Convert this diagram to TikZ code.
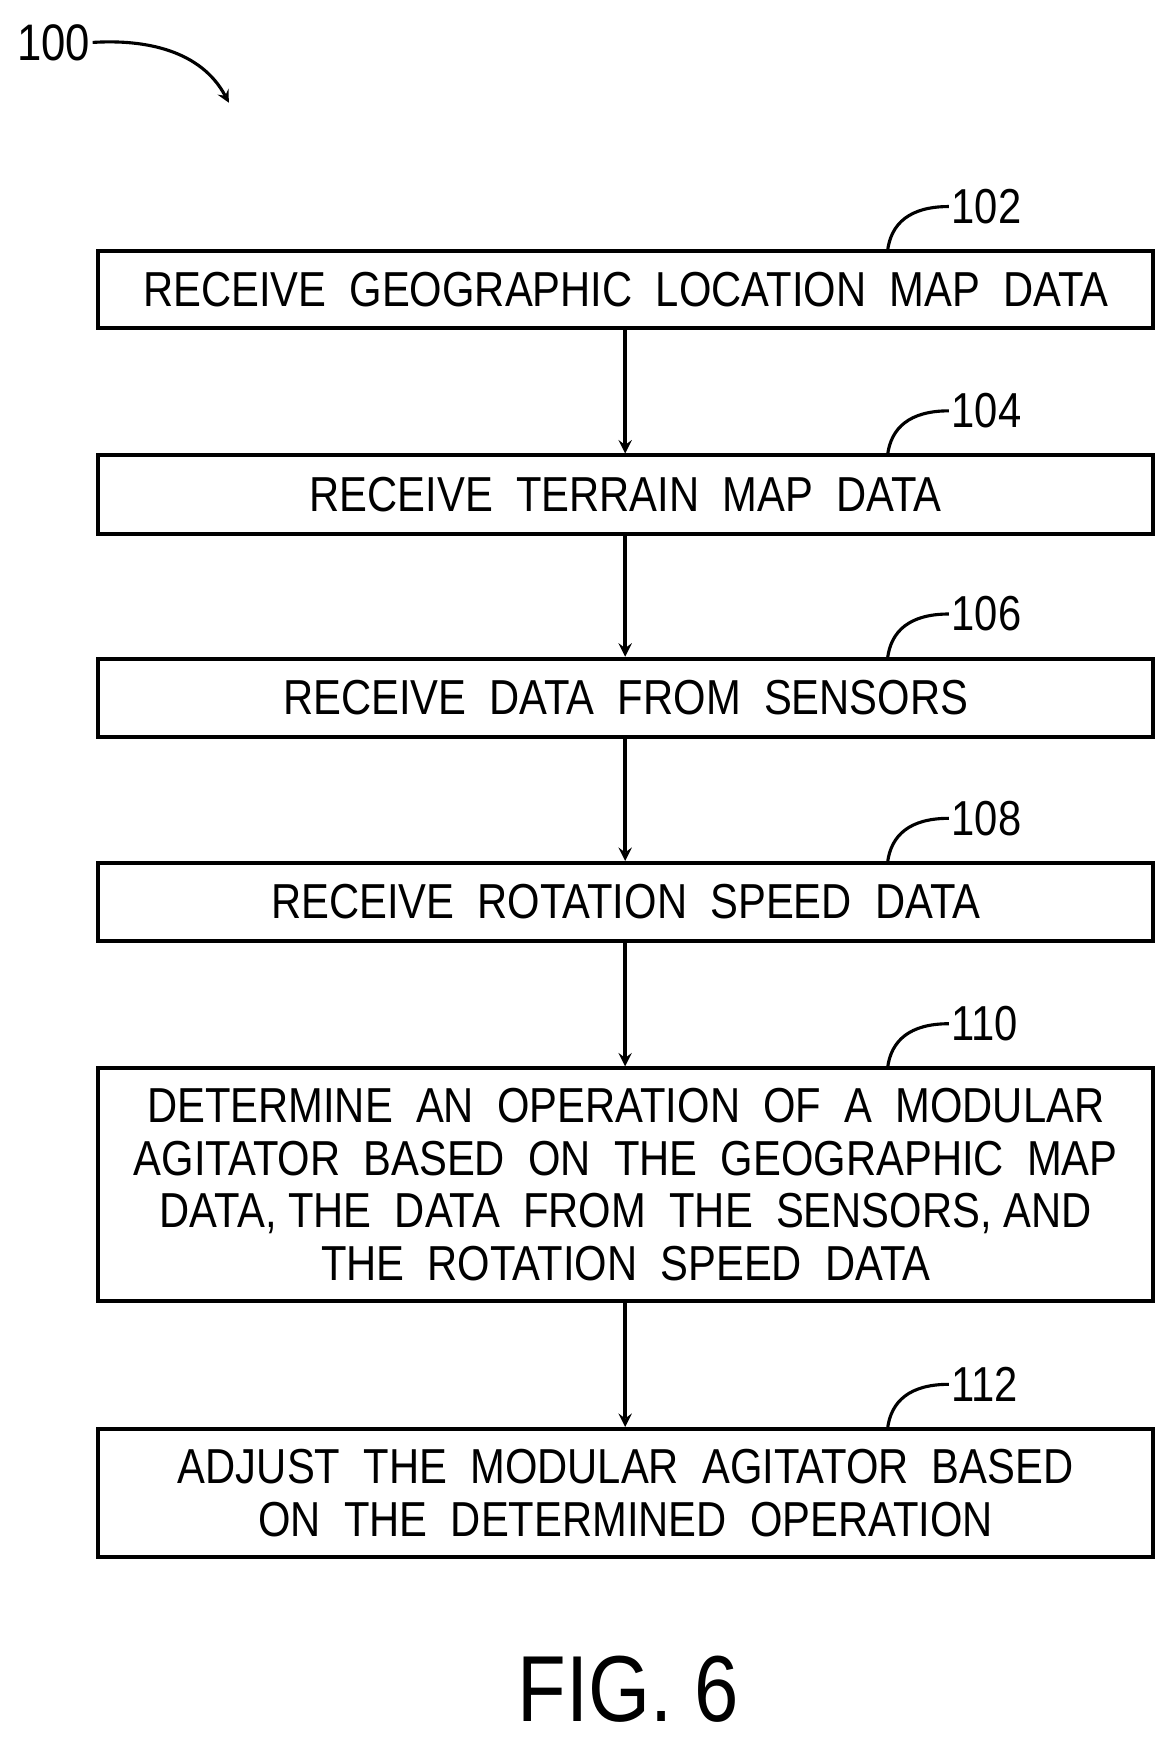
\documentclass[tikz,border=0pt]{standalone}
\usepackage{fontspec}
\setmainfont{Liberation Sans}[FakeStretch=0.85]
\begin{document}
\begin{tikzpicture}[x=0.5pt,y=-0.5pt,
  box/.style={draw,line width=1.8pt,minimum width=472.5pt,align=center,inner sep=0pt,font=\fontsize{22}{23.5}\selectfont},
  arr/.style={line width=1.6pt,->,>=stealth},
  lbl/.style={font=\fontsize{22}{24}\selectfont,anchor=west,inner sep=1pt},
  lead/.style={line width=1.4pt}]
\useasboundingbox (0,0) rectangle (1050,1564);
\node[box,minimum height=34.5pt] (b102) at (560.5,259.5) {RECEIVE\ \ GEOGRAPHIC\ \ LOCATION\ \ MAP\ \ DATA};
\node[box,minimum height=35pt] (b104) at (560.5,443) {RECEIVE\ \ TERRAIN\ \ MAP\ \ DATA};
\node[box,minimum height=35pt] (b106) at (560.5,625) {RECEIVE\ \ DATA\ \ FROM\ \ SENSORS};
\node[box,minimum height=35pt] (b108) at (560.5,808) {RECEIVE\ \ ROTATION\ \ SPEED\ \ DATA};
\node[box,minimum height=104pt] (b110) at (560.5,1061) {DETERMINE\ \ AN\ \ OPERATION\ \ OF\ \ A\ \ MODULAR\\AGITATOR\ \ BASED\ \ ON\ \ THE\ \ GEOGRAPHIC\ \ MAP\\DATA, THE\ \ DATA\ \ FROM\ \ THE\ \ SENSORS, AND\\THE\ \ ROTATION\ \ SPEED\ \ DATA};
\node[box,minimum height=57.5pt] (b112) at (560.5,1337.5) {ADJUST\ \ THE\ \ MODULAR\ \ AGITATOR\ \ BASED\\ON\ \ THE\ \ DETERMINED\ \ OPERATION};
\foreach \a/\b in {b102/b104,b104/b106,b106/b108,b108/b110,b110/b112}
  \draw[arr] (\a.south -| 560,0) -- (\b.north -| 560,0);
\foreach \n/\y in {102/225,104/408,106/590,108/773,110/957,112/1280}{
  \node[lbl] (l\n) at (850,\y-40) {\n};
  \draw[lead] (795,\y) .. controls (798,\y-25) and (815,\y-40) .. (l\n.west);
}
\node[font=\fontsize{23}{24}\selectfont,inner sep=1pt] (l100) at (48,38) {100};
\coordinate (t100) at (205,92);
\draw[lead,->,>=stealth] (l100.east) .. controls (130,35) and (180,45) .. (t100);
\node[font=\fontsize{42}{48}\selectfont] (fig) at (563,1513) {FIG. 6};
\end{tikzpicture}
\end{document}
